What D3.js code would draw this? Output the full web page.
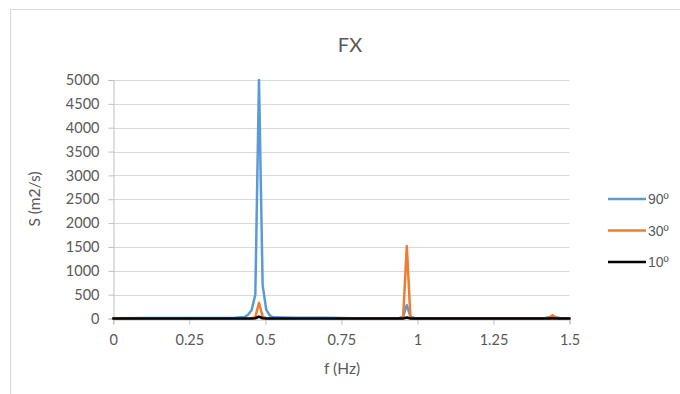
<!DOCTYPE html>
<html>
<head>
<meta charset="utf-8">
<script src="https://cdn.jsdelivr.net/npm/d3@7"></script>
<style>
  html, body { margin: 0; padding: 0; background: #fff; }
  svg { display: block; }
  text { font-family: Lato, "Open Sans", sans-serif; fill: #595959; }
</style>
</head>
<body>
<svg id="chart" width="680" height="394"></svg>
<script>
// Spectral density of FX for three headings
const freq   = [0, 0.1, 0.2, 0.3, 0.4, 0.431, 0.443, 0.455, 0.467, 0.479, 0.491, 0.503, 0.515, 0.527, 0.6, 0.7, 0.8, 0.9, 0.941, 0.953, 0.965, 0.977, 0.989, 1.1, 1.2, 1.3, 1.4, 1.42, 1.432, 1.444, 1.456, 1.468, 1.5];
const s90    = [5, 10, 10, 10, 15, 30, 80, 180, 500, 5000, 700, 180, 60, 25, 15, 15, 5, 5, 10, 40, 280, 40, 10, 5, 5, 5, 5, 10, 25, 40, 25, 10, 5];
const s30    = [0, 0, 0, 0, 0, 0, 0, 5, 30, 330, 40, 5, 0, 0, 0, 0, 0, 0, 0, 20, 1520, 20, 0, 0, 0, 0, 0, 0, 10, 70, 10, 0, 0];
const s10    = [0, 0, 0, 0, 0, 0, 0, 0, 5, 40, 5, 0, 0, 0, 0, 0, 0, 0, 0, 0, 20, 0, 0, 0, 0, 0, 0, 0, 0, 5, 0, 0, 0];
const seriesNames  = ["90º", "30º", "10º"];
const seriesColors = ["#5B9BD5", "#ED7D31", "#000000"];
const xTicks = [0, 0.25, 0.5, 0.75, 1, 1.25, 1.5];
const yTicks = [0, 500, 1000, 1500, 2000, 2500, 3000, 3500, 4000, 4500, 5000];

const svg = d3.select("#chart");
const labelFont = 14.5;

// outer chart frame
svg.append("rect")
  .attr("x", 10.5).attr("y", 9.5)
  .attr("width", 700).attr("height", 420)
  .attr("fill", "none").attr("stroke", "#D9D9D9");

const plotLeft = 113.3, plotRight = 569.5, plotTop = 80, plotBottom = 318.5;
const x = d3.scaleLinear().domain([0, 1.5]).range([plotLeft, plotRight]);
const y = d3.scaleLinear().domain([0, 5000]).range([plotBottom, plotTop]);

// horizontal gridlines
svg.append("g").selectAll("line")
  .data(yTicks.filter(d => d > 0))
  .join("line")
  .attr("x1", plotLeft).attr("x2", plotRight)
  .attr("y1", d => Math.round(y(d)) + 0.5).attr("y2", d => Math.round(y(d)) + 0.5)
  .attr("stroke", "#D9D9D9").attr("stroke-width", 1);

// y axis
const yAxis = svg.append("g")
  .attr("transform", `translate(${Math.round(plotLeft) + 0.5},0)`)
  .call(d3.axisLeft(y).tickValues(yTicks).tickSize(5).tickPadding(9).tickFormat(d3.format("d")));
yAxis.select(".domain").attr("stroke", "#BFBFBF");
yAxis.selectAll(".tick line").attr("stroke", "#BFBFBF");
yAxis.selectAll(".tick text").attr("font-size", labelFont).attr("fill", "#595959")
  .style("font-family", "Lato, 'Open Sans', sans-serif");

// x axis
const xAxis = svg.append("g")
  .attr("transform", `translate(0,${Math.round(plotBottom) + 0.5})`)
  .call(d3.axisBottom(x).tickValues(xTicks).tickSize(5).tickPadding(10).tickFormat(d => String(d)));
xAxis.select(".domain").attr("stroke", "#BFBFBF");
xAxis.selectAll(".tick line").attr("stroke", "#BFBFBF");
xAxis.selectAll(".tick text").attr("font-size", labelFont).attr("fill", "#595959")
  .style("font-family", "Lato, 'Open Sans', sans-serif");

// series lines
const line = d3.line().x((d, i) => x(freq[i])).y(d => y(d));
[s90, s30, s10].forEach((vals, k) => {
  svg.append("path")
    .datum(vals)
    .attr("d", line)
    .attr("fill", "none")
    .attr("stroke", seriesColors[k])
    .attr("stroke-width", 2.5)
    .attr("stroke-linejoin", "round")
    .attr("stroke-linecap", "round");
});

// title and axis titles
svg.append("text").attr("x", 350).attr("y", 52).attr("text-anchor", "middle")
  .attr("font-size", 20).text("FX");
svg.append("text").attr("x", 342).attr("y", 374).attr("text-anchor", "middle")
  .attr("font-size", 15.5).text("f (Hz)");
svg.append("text")
  .attr("transform", "translate(40,199) rotate(-90)")
  .attr("text-anchor", "middle").attr("font-size", 15.5).text("S (m2/s)");

// legend (Liberation Sans draws the ordinal indicator with its underline)
const legend = svg.append("g");
seriesNames.forEach((name, k) => {
  const ly = 199 + k * 31.5;
  legend.append("line")
    .attr("x1", 608).attr("x2", 646).attr("y1", ly).attr("y2", ly)
    .attr("stroke", seriesColors[k]).attr("stroke-width", 2.5);
  legend.append("text")
    .attr("x", 648).attr("y", ly + 5).attr("font-size", 14)
    .style("font-family", "'Liberation Sans', sans-serif")
    .text(name);
});
</script>
</body>
</html>
